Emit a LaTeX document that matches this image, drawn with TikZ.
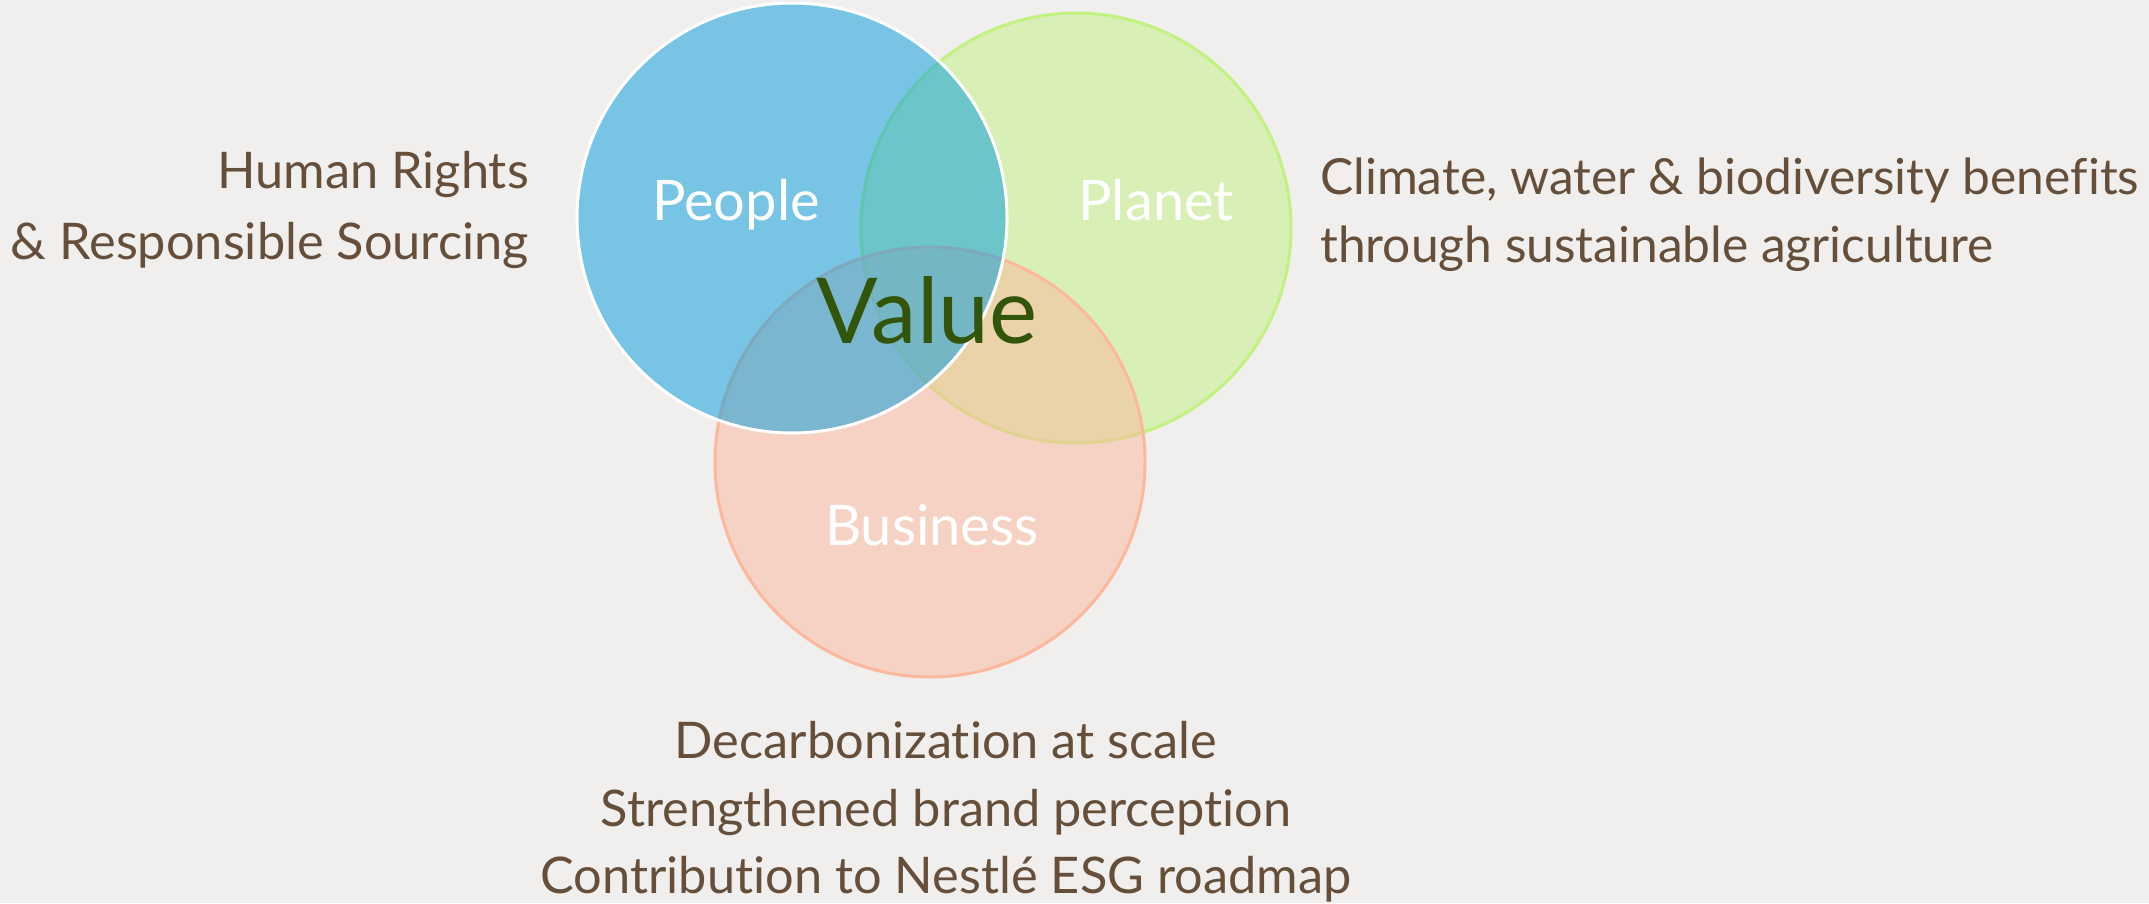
\documentclass[tikz,border=0pt]{standalone}
\usepackage{fontspec}
\setmainfont{Lato}[Ligatures=NoCommon]
\usepackage{xcolor}
\definecolor{paper}{HTML}{F0EFED}
\definecolor{bark}{HTML}{654F3B}
\definecolor{leaf}{HTML}{33550A}
\definecolor{sky}{HTML}{009BDD}
\definecolor{lime}{HTML}{C2F181}
\definecolor{peach}{HTML}{FCB79D}
\tikzset{
  ring/.style={circle, minimum size=430pt, inner sep=0pt, line width=3pt},
  pillar/.style={text=white, font=\fontsize{56}{64}\selectfont, inner sep=0pt, anchor=base},
  note/.style={text=bark, font=\fontsize{50.5}{58}\selectfont, inner sep=0pt},
  widenote/.style={note, font=\fontsize{49.7}{58}\selectfont, anchor=base west},
  core/.style={text=leaf, font=\fontsize{91}{100}\selectfont, inner sep=0pt, anchor=base}
}

\begin{document}
\begin{tikzpicture}[x=1pt, y=-1pt]
\fill[paper] (0,0) rectangle (2149,903);
\useasboundingbox (0,0) rectangle (2149,903);
\node[ring, fill=lime, fill opacity=0.5, draw=lime] (planet) at (1076,228) {};
\node[ring, fill=peach, fill opacity=0.5, draw=peach] (business) at (930,462) {};
\node[ring, fill=sky, fill opacity=0.5, draw=white] (people) at (792,218) {};
\node[pillar] (peoplelbl) at (736,220) {People};
\node[pillar] (planetlbl) at (1156,220) {Planet};
\node[pillar] (businesslbl) at (932,545) {Business};
\node[core] (value) at (927,343) {Value};
\node[note, anchor=base east] (rights) at (529,188) {Human Rights};
\node[note, anchor=base east] (sourcing) at (529,259) {\& Responsible Sourcing};
\node[widenote] (climate) at (1320,194) {Climate, water \& biodiversity benefits};
\node[widenote] (agri) at (1320,262) {through sustainable agriculture};
\node[note, anchor=base] (decarb) at (946,758) {Decarbonization at scale};
\node[note, anchor=base] (brand) at (946,826) {Strengthened brand perception};
\node[note, anchor=base] (esg) at (946,893) {Contribution to Nestlé ESG roadmap};
\end{tikzpicture}
\end{document}
